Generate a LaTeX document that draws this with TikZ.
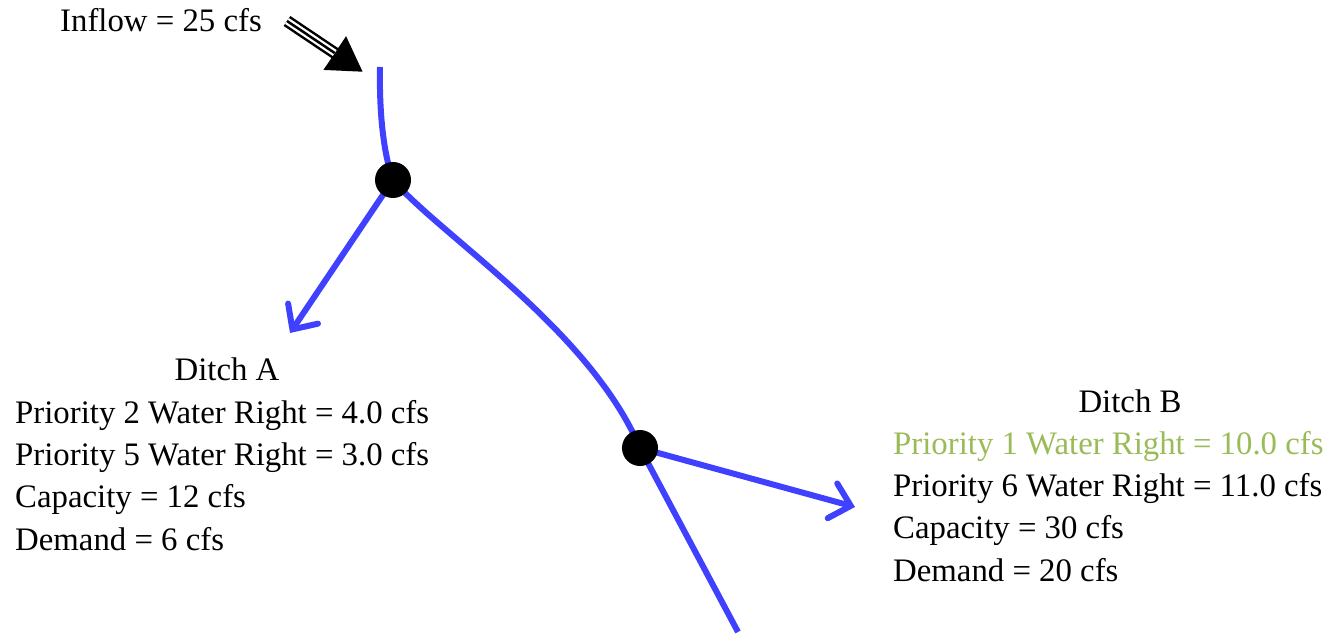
\documentclass[tikz,border=0pt]{standalone}
\usepackage{fontspec}
\setmainfont{Liberation Serif}
\usetikzlibrary{arrows.meta,positioning,calc}
\definecolor{riverblue}{RGB}{64,64,255}
\definecolor{rightgreen}{RGB}{155,187,89}

\begin{document}
\begin{tikzpicture}[x=1pt, y=-1pt,
    info/.style={font=\fontsize{32.8}{42.3}\selectfont, inner sep=0pt, align=left},
    junction/.style={circle, fill=black, minimum size=36pt, inner sep=0pt},
    river/.style={riverblue, line width=6pt},
    ditch/.style={riverblue, line width=6pt, line cap=round, -{Straight Barb[length=19pt, width=36pt, line cap=round]}}
]
\useasboundingbox (0,0) rectangle (1336,636);

% Inflow
\node[info, anchor=base west] (inflow) at (60,32) {Inflow = 25 cfs};
\coordinate (inTail) at (287,21);
\coordinate (inTip) at (363,72);
\draw[line width=12pt, -{Triangle[length=34pt, width=38pt]}] (inTail) -- (inTip);
\draw[white, line width=7pt, shorten >=34pt] (inTail) -- (inTip);
\draw[line width=2.5pt, shorten >=34pt] (inTail) -- (inTip);

% River
\coordinate (src) at (380,67);
\coordinate (j1) at (393,180);
\coordinate (j2) at (640,448);
\coordinate (mouth) at (738,632);
\draw[river] (src) .. controls (379,120) and (385,158) .. (j1)
  .. controls (440,235) and (590,330) .. (j2) -- (mouth);

% Diversions
\coordinate (ditchA) at (290,333);
\coordinate (ditchB) at (855,507);
\draw[ditch] (j1) -- (ditchA);
\draw[ditch] (j2) -- (ditchB);
\node[junction] (dotA) at (j1) {};
\node[junction] (dotB) at (j2) {};

% Ditch A
\node[info, anchor=base] (titleA) at (227,380) {Ditch A};
\node[info, anchor=base west] (rightsA) at (15,550)
  {Priority 2 Water Right = 4.0 cfs\\Priority 5 Water Right = 3.0 cfs\\Capacity = 12 cfs\\Demand = 6 cfs};

% Ditch B
\node[info, anchor=base] (titleB) at (1130,412) {Ditch B};
\node[info, anchor=base west] (rightsB) at (893,581)
  {\textcolor{rightgreen}{Priority 1 Water Right = 10.0 cfs}\\Priority 6 Water Right = 11.0 cfs\\Capacity = 30 cfs\\Demand = 20 cfs};

\end{tikzpicture}
\end{document}
